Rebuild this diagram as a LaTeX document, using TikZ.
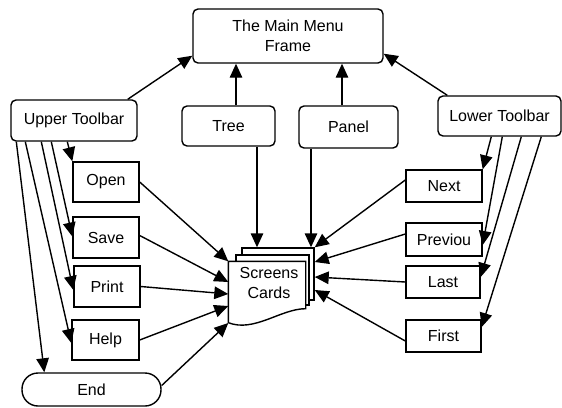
\documentclass[tikz,border=0pt]{standalone}
\usepackage{fontspec}
\setmainfont{Liberation Sans}
\usetikzlibrary{arrows.meta, calc}

\begin{document}
\begin{tikzpicture}[x=1pt,y=-1pt,line width=1.4pt,
    font=\fontsize{16}{20}\selectfont,
    rbox/.style={draw,rounded corners=5pt,inner sep=0pt,align=center},
    sbox/.style={draw,inner sep=0pt},
    page/.style={draw,fill=white,inner sep=0pt},
    arr/.style={-{Triangle[length=14pt,width=12.5pt]}}]
\useasboundingbox (0,0) rectangle (562,407);
%
\node[rbox,minimum width=190pt,minimum height=54pt] (menu) at (288,36) {The Main Menu\\Frame};
\node[rbox,minimum width=126pt,minimum height=41pt] (upper) at (74,120.5) {Upper Toolbar};
\node[rbox,minimum width=93pt,minimum height=40pt] (tree) at (228.5,126) {Tree};
\node[rbox,minimum width=99pt,minimum height=42pt] (panel) at (348.5,127) {Panel};
\node[rbox,minimum width=123pt,minimum height=40pt] (lower) at (499.5,116) {Lower Toolbar};

%
\node[sbox,minimum width=66pt,minimum height=40pt] (open) at (106,182) {Open};
\node[sbox,minimum width=66pt,minimum height=41pt] (save) at (106,237.5) {Save};
\node[sbox,minimum width=66pt,minimum height=41pt] (print) at (107,286.5) {Print};
\node[sbox,minimum width=67pt,minimum height=40pt] (help) at (105.5,340) {Help};
\node[draw,rounded corners=16pt,inner sep=0pt,minimum width=139pt,minimum height=33pt] (end) at (91.5,389.5) {End};

%
\node[sbox,minimum width=76pt,minimum height=32pt] (next) at (444,186) {Next};
\node[sbox,minimum width=76pt,minimum height=33pt] (prev) at (444,239.5) {Previou};
\node[sbox,minimum width=74pt,minimum height=32pt] (last) at (443,282) {Last};
\node[sbox,minimum width=75pt,minimum height=32pt] (first) at (443.5,336) {First};

%
\node[page,minimum width=72pt,minimum height=52pt] (page3) at (278,274) {};
\node[page,minimum width=73pt,minimum height=50pt] (page2) at (272.5,280) {};
\node[minimum width=76pt,minimum height=42pt,inner sep=0pt] (scr) at (267,283) {};
\draw[fill=white] (scr.north west) -- (scr.north east) -- ([yshift=-4pt]scr.south east)
    .. controls ([shift={(-25pt,-4pt)}]scr.south east) and ([shift={(26pt,-28pt)}]scr.south west)
    .. ([yshift=-18pt]scr.south west) -- cycle;
\node[align=center,inner sep=0pt] (scrtext) at ([xshift=2pt]scr.center) {Screens\\Cards};

%
\coordinate (treeup) at ([xshift=7.5pt]tree.north);
\coordinate (treedown) at ([xshift=28.5pt]tree.south);
\coordinate (panelup) at ([xshift=-6.5pt]panel.north);
\coordinate (paneldown) at ([xshift=-37.5pt]panel.south);

\draw[arr] ([xshift=-10pt]upper.north east) -- ([yshift=8pt]menu.south west);
\draw[arr] (treeup) -- (treeup |- menu.south);
\draw[arr] (panelup) -- (panelup |- menu.south);
\draw[arr] ([xshift=10pt]lower.north west) -- ([yshift=10pt]menu.south east);

\draw[arr] (treedown) -- (treedown |- page3.north);
\draw[arr] (paneldown) -- (paneldown |- page3.north);

%
\draw[arr] ([xshift=57pt]upper.south west) -- (open.north west);
\draw[arr] ([xshift=41pt]upper.south west) -- ([yshift=1pt]save.west);
\draw[arr] ([xshift=31pt]upper.south west) -- ([yshift=-3.5pt]print.west);
\draw[arr] ([xshift=15pt]upper.south west) -- ([yshift=-3pt]help.west);
\draw[arr] ([xshift=6pt]upper.south west) -- ([xshift=23pt]end.north west);

\draw[arr] ([xshift=54pt]lower.south west) -- (next.north east);
\draw[arr] ([xshift=65pt]lower.south west) -- ([yshift=-5.5pt]prev.east);
\draw[arr] ([xshift=84pt]lower.south west) -- ([yshift=5pt]last.east);
\draw[arr] ([xshift=104pt]lower.south west) -- ([yshift=9pt]first.east);

%
\draw[arr] (open.east) -- (scr.north west);
\draw[arr] ([yshift=2pt]save.east) -- ([yshift=1pt]scr.west);
\draw[arr] (print.east) -- ([yshift=-11pt]scr.west);
\draw[arr] (help.east) -- ([yshift=-23pt]scr.west);
\draw[arr] ([yshift=4pt]end.east) -- ([yshift=-40pt]scr.west);

\draw[arr] ([yshift=6pt]next.west) -- (page3.north east);
\draw[arr] ([yshift=5.5pt]prev.west) -- ([yshift=12pt]page3.east);
\draw[arr] (last.west) -- ([yshift=-3pt]page3.east);
\draw[arr] ([yshift=-5pt]first.west) -- ([yshift=-16pt]page3.east);
\end{tikzpicture}
\end{document}
